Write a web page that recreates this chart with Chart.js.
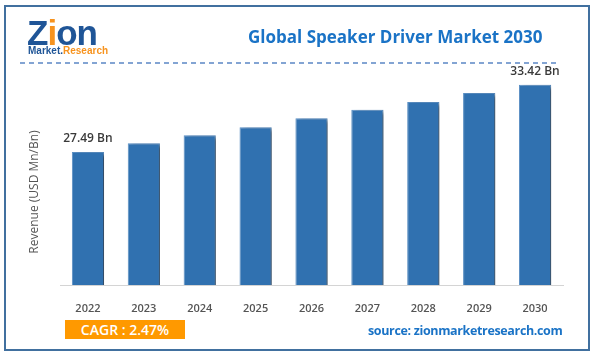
<!DOCTYPE html>
<html>
<head>
<meta charset="utf-8">
<script src="https://cdn.jsdelivr.net/npm/chart.js@4.4.0/dist/chart.umd.min.js"></script>
<style>
  html, body { margin:0; padding:0; background:#fff; }
  #wrap { position:relative; width:598px; height:354px; overflow:hidden; font-family:"Open Sans", sans-serif; }
  #c { position:absolute; left:0; top:0; }
  .abs { position:absolute; white-space:nowrap; }
  #frame { position:absolute; left:4px; top:5px; width:582px; height:342px; border:2px solid #41709f; }
  #title { left:248px; top:25px; font-size:17px; font-weight:700; color:#1a73c6; }
  #logo { left:27px; top:13px; font-size:35px; font-weight:800; color:#1f5597; font-family:"Liberation Sans", Arial, sans-serif; letter-spacing:-1px; line-height:40px;}
  #logo2 { left:28px; top:45px; font-size:10px; font-weight:700; font-family:"Liberation Sans", Arial, sans-serif; line-height:11px;}
  #cagr { left:65px; top:320px; width:120px; height:19px; background:#ff9900; color:#fff; font-size:14px; font-weight:600; text-align:center; line-height:19px; }
  #src { left:368px; top:322px; font-size:12.5px; font-weight:700; color:#1a73c6; letter-spacing:-0.35px; }
</style>
</head>
<body>
<div id="wrap">
  <canvas id="c" width="598" height="354"></canvas>
  <div id="frame"></div>
  <svg class="abs" style="left:0;top:0" width="598" height="354">
    <line x1="20" y1="63" x2="558" y2="63" stroke="#5b86c5" stroke-width="1.5" stroke-dasharray="5,4"/>
  </svg>
  <div class="abs" id="logo"><span style="color:#1f5597">Z</span><span style="color:#f7931e">i</span>on</div>
  <div class="abs" id="logo2"><span style="color:#1f5597">Market.</span><span style="color:#f7931e">Research</span></div>
  <div class="abs" id="title">Global Speaker Driver Market 2030</div>
  <div class="abs" id="cagr">CAGR : 2.47%</div>
  <div class="abs" id="src">source: zionmarketresearch.com</div>
</div>
<script>
const categories = ["2022","2023","2024","2025","2026","2027","2028","2029","2030"];
const revenue = [27.49, 28.26, 28.97, 29.68, 30.47, 31.21, 31.91, 32.71, 33.42];
const valueLabels = ["27.49 Bn","","","","","","","","33.42 Bn"];
const yAxisTitle = "Revenue (USD Mn/Bn)";

const shadowPlugin = {
  id: 'shadow',
  beforeDatasetsDraw(chart) {
    const ctx = chart.ctx;
    ctx.save();
    ctx.shadowColor = 'rgba(0,0,0,0.5)';
    ctx.shadowOffsetX = 4;
    ctx.shadowOffsetY = 2;
    ctx.shadowBlur = 4;
  },
  afterDatasetsDraw(chart) {
    const ctx = chart.ctx;
    ctx.restore();
    const meta = chart.getDatasetMeta(0);
    ctx.save();
    ctx.font = '600 12px "Open Sans", sans-serif';
    ctx.fillStyle = '#3a3a3a';
    ctx.textAlign = 'center';
    ctx.textBaseline = 'middle';
    meta.data.forEach((bar, i) => {
      if (valueLabels[i]) ctx.fillText(valueLabels[i], bar.x, bar.y - 13);
    });
    ctx.restore();
  },
  afterDraw(chart) {
    const ctx = chart.ctx;
    ctx.save();
    ctx.translate(35, 192);
    ctx.rotate(-Math.PI/2);
    ctx.font = '12px "Open Sans", sans-serif';
    ctx.fillStyle = '#555';
    ctx.textAlign = 'center';
    ctx.textBaseline = 'middle';
    ctx.fillText(yAxisTitle, 0, 0);
    ctx.restore();
  }
};

new Chart(document.getElementById('c'), {
  type: 'bar',
  data: {
    labels: categories,
    datasets: [{
      data: revenue,
      backgroundColor: '#3071b0',
      borderColor: '#5a8fc4',
      borderWidth: 1,
      barPercentage: 0.9,
      categoryPercentage: 0.64
    }]
  },
  options: {
    responsive: false,
    animation: false,
    devicePixelRatio: 1,
    layout: { padding: { top: 67, left: 0, right: 35, bottom: 0 } },
    plugins: { legend: { display: false }, tooltip: { enabled: false }, title: { display: false } },
    scales: {
      x: {
        grid: { display: false },
        border: { display: true, color: '#d4d4d4', width: 1 },
        ticks: { color: '#555', font: { family: '"Open Sans", sans-serif', size: 11, weight: '600' }, padding: 9 },
        afterFit(s) { s.height = 69; }
      },
      y: {
        min: 15.72, max: 35,
        grid: { display: false },
        border: { display: false },
        ticks: { display: false },
        afterFit(s) { s.width = 60; }
      }
    }
  },
  plugins: [shadowPlugin]
});
</script>
</body>
</html>
